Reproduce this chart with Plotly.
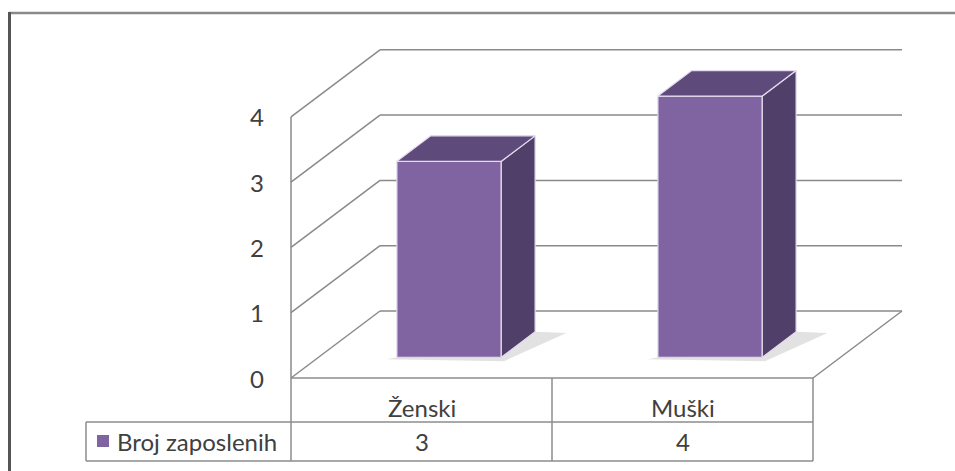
import plotly.graph_objects as go

# ---------------- data ----------------
categories = ["Ženski", "Muški"]
values = [3, 4]
series_name = "Broj zaposlenih"
y_ticks = [0, 1, 2, 3, 4]

# ---------------- geometry (pixels of the 955x471 canvas) ----------------
W, H = 955, 471
X_FRONT = 291.0      # left edge of the front plane
SLOT = 261.0         # width of one category slot
Y_ZERO = 378.0       # pixel row of value 0 on the front plane
UNIT = 65.3          # pixels per value unit
DEPTH_DX = 89.0      # oblique depth offset, x
DEPTH_DY = 67.0      # oblique depth offset, y (upwards)

BAR_W = 0.4          # bar width as fraction of slot (gap 150%)
D0, D1 = 0.31, 0.69  # bar depth span as fraction of floor depth

FONT = "Lato, 'Open Sans', sans-serif"
FS = 24
TXT = "#404040"
GRID = "#8a8a8a"
FRONT_C = "#8064A2"
TOP_C = "#5f4b7b"
SIDE_C = "#4f3f69"
EDGE_C = "#e4dcee"


def px_x(px):
    return (px - X_FRONT) / SLOT


def px_y(py):
    return (Y_ZERO - py) / UNIT


DX = DEPTH_DX / SLOT
DY = DEPTH_DY / UNIT


def proj(u, v, d):
    return u + d * DX, v + d * DY


n = len(categories)
shapes = []
annotations = []


def line(p, q, color=GRID, width=1.5):
    shapes.append(dict(type="line", xref="x", yref="y", x0=p[0], y0=p[1],
                       x1=q[0], y1=q[1], line=dict(color=color, width=width),
                       layer="below"))


# ---- walls / gridlines ----
for v in y_ticks:
    a = proj(0, v, 0)
    b = proj(0, v, 1)
    c = proj(n, v, 1)
    line(a, b)
    line(b, c)
line(proj(0, 0, 0), proj(0, y_ticks[-1], 0))          # front left vertical edge
line(proj(n, 0, 0), proj(n, 0, 1))                    # floor right diagonal

# ---- bar shadows ----
for i, v in enumerate(values):
    xl = i + 0.5 - BAR_W / 2
    xr = i + 0.5 + BAR_W / 2
    pts = [proj(xl - 0.04, -0.03, D0), proj(xr + 0.01, -0.06, D0),
           proj(xr + 0.12, -0.02, D1), proj(xr, 0, D1)]
    path = "M " + " L ".join(f"{x},{y}" for x, y in pts) + " Z"
    shapes.append(dict(type="path", xref="x", yref="y", path=path,
                       fillcolor="rgba(160,160,160,0.3)", line=dict(width=0),
                       layer="below"))

traces = []
# ---- bar front faces ----
traces.append(go.Bar(
    x=[i + 0.5 + D0 * DX for i in range(n)],
    y=values,
    base=[D0 * DY] * n,
    width=BAR_W,
    marker=dict(color=FRONT_C, line=dict(color=EDGE_C, width=1.2)),
    name=series_name,
    showlegend=False,
    hoverinfo="skip",
))

# ---- bar side and top faces ----
for i, v in enumerate(values):
    xl = i + 0.5 - BAR_W / 2
    xr = i + 0.5 + BAR_W / 2
    side = [proj(xr, 0, D0), proj(xr, v, D0), proj(xr, v, D1), proj(xr, 0, D1)]
    top = [proj(xl, v, D0), proj(xr, v, D0), proj(xr, v, D1), proj(xl, v, D1)]
    for poly, col in ((side, SIDE_C), (top, TOP_C)):
        xs = [p[0] for p in poly] + [poly[0][0]]
        ys = [p[1] for p in poly] + [poly[0][1]]
        traces.append(go.Scatter(x=xs, y=ys, mode="lines", fill="toself",
                                 fillcolor=col,
                                 line=dict(color=EDGE_C, width=1.2),
                                 showlegend=False, hoverinfo="skip"))

# ---- y tick labels ----
for v in y_ticks:
    annotations.append(dict(x=px_x(266), y=v, xref="x", yref="y", text=str(v),
                            showarrow=False, xanchor="right", yanchor="middle",
                            font=dict(family=FONT, size=FS, color=TXT)))

# ---- data table ----
ROW0, ROW1, ROW2 = 378.0, 422.0, 461.0
LEG_LEFT = 86.0
TBL = "#8c8c8c"
line((0, px_y(ROW0)), (n, px_y(ROW0)), TBL, 1.5)
line((px_x(LEG_LEFT), px_y(ROW1)), (n, px_y(ROW1)), TBL, 1.5)
line((px_x(LEG_LEFT), px_y(ROW2)), (n, px_y(ROW2)), TBL, 1.5)
line((px_x(LEG_LEFT), px_y(ROW1)), (px_x(LEG_LEFT), px_y(ROW2)), TBL, 1.5)
for k in range(n + 1):
    line((k, px_y(ROW0)), (k, px_y(ROW2)), TBL, 1.5)

for i, (c, v) in enumerate(zip(categories, values)):
    annotations.append(dict(x=i + 0.5, y=px_y(407), xref="x", yref="y",
                            text=c, showarrow=False, xanchor="center", yanchor="middle",
                            font=dict(family=FONT, size=FS, color=TXT)))
    annotations.append(dict(x=i + 0.5, y=px_y(441.5), xref="x", yref="y",
                            text=str(v), showarrow=False, xanchor="center", yanchor="middle",
                            font=dict(family=FONT, size=FS, color=TXT)))

# legend key + series name
shapes.append(dict(type="rect", xref="x", yref="y",
                   x0=px_x(97), x1=px_x(109), y0=px_y(447), y1=px_y(435),
                   fillcolor=FRONT_C, line=dict(width=0)))
annotations.append(dict(x=px_x(115), y=px_y(441.5), xref="x", yref="y",
                        text=series_name, showarrow=False, xanchor="left", yanchor="middle",
                        font=dict(family=FONT, size=FS, color=TXT)))

# ---- outer chart border ----
shapes.append(dict(type="line", xref="x", yref="y", x0=px_x(9), y0=px_y(13),
                   x1=px_x(W + 5), y1=px_y(13), line=dict(color="#8a8a8a", width=2.5)))
shapes.append(dict(type="line", xref="x", yref="y", x0=px_x(9.5), y0=px_y(12),
                   x1=px_x(9.5), y1=px_y(H + 5), line=dict(color="#555555", width=3)))

fig = go.Figure(traces)
fig.update_layout(
    width=W, height=H,
    margin=dict(l=0, r=0, t=0, b=0),
    paper_bgcolor="white", plot_bgcolor="white",
    xaxis=dict(range=[px_x(0), px_x(W)], visible=False, fixedrange=True),
    yaxis=dict(range=[px_y(H), px_y(0)], visible=False, fixedrange=True),
    shapes=shapes,
    annotations=annotations,
    showlegend=False,
    barmode="overlay",
)
fig.write_html("out.html", config={"displayModeBar": False},
               post_script="document.body.style.margin='0';document.body.style.overflow='hidden';")
